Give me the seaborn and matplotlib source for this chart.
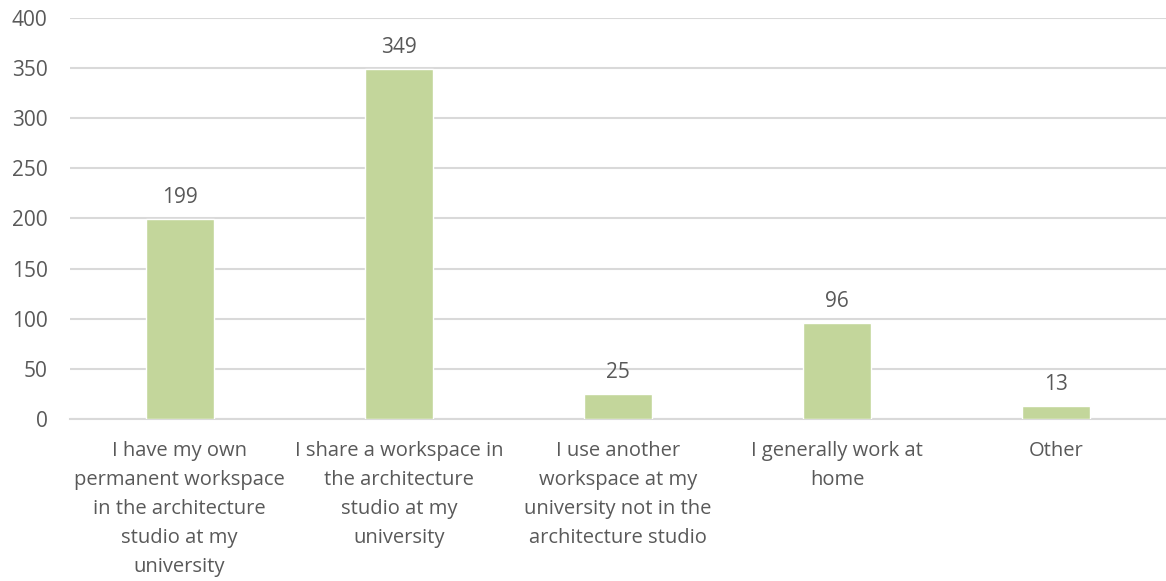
import matplotlib
matplotlib.use("Agg")
import matplotlib.pyplot as plt
import seaborn as sns
import pandas as pd

categories = [
    "I have my own\npermanent workspace\nin the architecture\nstudio at my\nuniversity",
    "I share a workspace in\nthe architecture\nstudio at my\nuniversity",
    "I use another\nworkspace at my\nuniversity not in the\narchitecture studio",
    "I generally work at\nhome",
    "Other",
]
counts = [199, 349, 25, 96, 13]
y_ticks = [0, 50, 100, 150, 200, 250, 300, 350, 400]

bar_color = "#C3D69B"
text_color = "#595959"
grid_color = "#D9D9D9"

sns.set_theme(style="white")
plt.rcParams["font.family"] = ["Open Sans", "DejaVu Sans"]

df = pd.DataFrame({"category": categories, "count": counts})

fig = plt.figure(figsize=(11.66, 5.81), dpi=100)
ax = fig.add_axes([0.060, 0.279, 0.940, 0.690])

sns.barplot(data=df, x="category", y="count", color=bar_color,
            width=0.31, saturation=1, ax=ax, zorder=3)

ax.set_ylim(0, 400)
ax.set_yticks(y_ticks)
ax.yaxis.grid(True, color=grid_color, linewidth=1.5, zorder=0)
ax.set_axisbelow(True)
for side in ["top", "right", "left"]:
    ax.spines[side].set_visible(False)
ax.spines["bottom"].set_color(grid_color)
ax.spines["bottom"].set_linewidth(1.5)
ax.tick_params(axis="y", length=0, labelsize=15, colors=text_color, pad=16)
ax.tick_params(axis="x", length=0, labelsize=14.5, colors=text_color, pad=16)
for lbl in ax.get_xticklabels():
    lbl.set_linespacing(1.6)
    lbl.set_verticalalignment("top")
ax.set_xlabel("")
ax.set_ylabel("")

for container in ax.containers:
    ax.bar_label(container, labels=[str(v) for v in counts], padding=8,
                 fontsize=15, color=text_color)

fig.savefig("out.png", dpi=100, facecolor="white")
